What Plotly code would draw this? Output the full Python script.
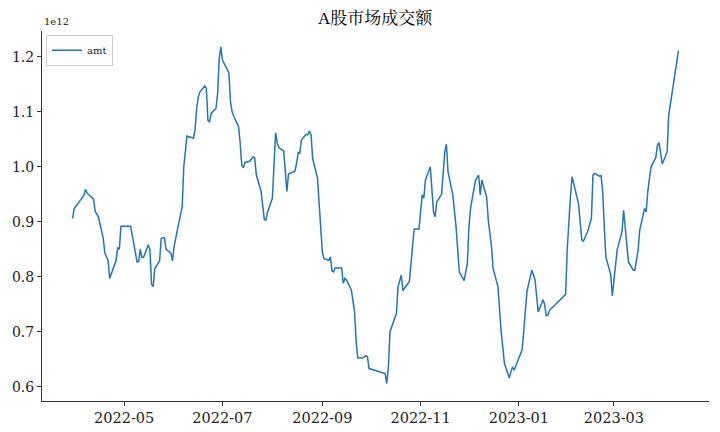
import plotly.graph_objects as go

dates = [
    "2022-03-30", "2022-03-31", "2022-04-06", "2022-04-07", "2022-04-08", "2022-04-12",
    "2022-04-13", "2022-04-15", "2022-04-18", "2022-04-19", "2022-04-21", "2022-04-22",
    "2022-04-26", "2022-04-27", "2022-04-28", "2022-04-29", "2022-05-05", "2022-05-09",
    "2022-05-10", "2022-05-11", "2022-05-12", "2022-05-13", "2022-05-16", "2022-05-17",
    "2022-05-18", "2022-05-19", "2022-05-20", "2022-05-23", "2022-05-24", "2022-05-25",
    "2022-05-26", "2022-05-27", "2022-05-30", "2022-05-31", "2022-06-01", "2022-06-03",
    "2022-06-06", "2022-06-07", "2022-06-08", "2022-06-09", "2022-06-13", "2022-06-14",
    "2022-06-15", "2022-06-16", "2022-06-17", "2022-06-20", "2022-06-21", "2022-06-22",
    "2022-06-23", "2022-06-24", "2022-06-27", "2022-06-28", "2022-06-29", "2022-06-30",
    "2022-07-01", "2022-07-05", "2022-07-06", "2022-07-07", "2022-07-08", "2022-07-11",
    "2022-07-12", "2022-07-13", "2022-07-14", "2022-07-15", "2022-07-18", "2022-07-20",
    "2022-07-21", "2022-07-22", "2022-07-25", "2022-07-26", "2022-07-27", "2022-07-28",
    "2022-07-29", "2022-08-01", "2022-08-02", "2022-08-03", "2022-08-04", "2022-08-05",
    "2022-08-08", "2022-08-09", "2022-08-10", "2022-08-11", "2022-08-15", "2022-08-16",
    "2022-08-17", "2022-08-18", "2022-08-19", "2022-08-21", "2022-08-22", "2022-08-23",
    "2022-08-24", "2022-08-25", "2022-08-26", "2022-08-29", "2022-08-30", "2022-08-31",
    "2022-09-01", "2022-09-02", "2022-09-05", "2022-09-06", "2022-09-07", "2022-09-08",
    "2022-09-09", "2022-09-13", "2022-09-14", "2022-09-15", "2022-09-16", "2022-09-19",
    "2022-09-21", "2022-09-22", "2022-09-23", "2022-09-26", "2022-09-28", "2022-09-29",
    "2022-09-30", "2022-10-10", "2022-10-11", "2022-10-12", "2022-10-13", "2022-10-17",
    "2022-10-18", "2022-10-20", "2022-10-21", "2022-10-25", "2022-10-28", "2022-10-31",
    "2022-11-02", "2022-11-03", "2022-11-04", "2022-11-07", "2022-11-09", "2022-11-10",
    "2022-11-11", "2022-11-14", "2022-11-16", "2022-11-17", "2022-11-18", "2022-11-21",
    "2022-11-23", "2022-11-25", "2022-11-28", "2022-11-30", "2022-12-01", "2022-12-02",
    "2022-12-05", "2022-12-07", "2022-12-08", "2022-12-09", "2022-12-12", "2022-12-13",
    "2022-12-15", "2022-12-16", "2022-12-19", "2022-12-21", "2022-12-23", "2022-12-26",
    "2022-12-28", "2022-12-29", "2023-01-03", "2023-01-04", "2023-01-06", "2023-01-09",
    "2023-01-11", "2023-01-13", "2023-01-16", "2023-01-17", "2023-01-18", "2023-01-19",
    "2023-01-20", "2023-01-30", "2023-01-31", "2023-02-02", "2023-02-03", "2023-02-07",
    "2023-02-08", "2023-02-09", "2023-02-10", "2023-02-13", "2023-02-15", "2023-02-16",
    "2023-02-17", "2023-02-20", "2023-02-21", "2023-02-22", "2023-02-23", "2023-02-24",
    "2023-02-27", "2023-02-28", "2023-03-03", "2023-03-06", "2023-03-07", "2023-03-09",
    "2023-03-10", "2023-03-13", "2023-03-14", "2023-03-16", "2023-03-17", "2023-03-20",
    "2023-03-21", "2023-03-22", "2023-03-24", "2023-03-27", "2023-03-28", "2023-03-29",
    "2023-03-30", "2023-03-31", "2023-04-03", "2023-04-04", "2023-04-07", "2023-04-10",
]

# amt, in units of 1e12
amt = [
    0.906, 0.924, 0.948, 0.959, 0.952, 0.941,
    0.919, 0.909, 0.870, 0.843, 0.830, 0.797,
    0.830, 0.853, 0.850, 0.892, 0.892, 0.827,
    0.828, 0.850, 0.835, 0.835, 0.858, 0.849,
    0.786, 0.782, 0.815, 0.829, 0.870, 0.870,
    0.871, 0.850, 0.843, 0.829, 0.855, 0.885,
    0.927, 1.000, 1.024, 1.056, 1.052, 1.067,
    1.106, 1.127, 1.136, 1.147, 1.143, 1.084,
    1.082, 1.097, 1.106, 1.133, 1.197, 1.218,
    1.194, 1.171, 1.118, 1.100, 1.092, 1.073,
    1.043, 1.003, 0.998, 1.008, 1.010, 1.018,
    1.016, 0.986, 0.955, 0.927, 0.904, 0.903,
    0.918, 0.943, 1.018, 1.062, 1.043, 1.035,
    1.029, 0.991, 0.955, 0.987, 0.992, 1.006,
    1.026, 1.025, 1.049, 1.056, 1.059, 1.058,
    1.065, 1.058, 1.015, 0.979, 0.933, 0.891,
    0.845, 0.833, 0.830, 0.836, 0.811, 0.809,
    0.816, 0.816, 0.788, 0.797, 0.794, 0.776,
    0.736, 0.682, 0.652, 0.652, 0.656, 0.655,
    0.633, 0.624, 0.606, 0.636, 0.700, 0.733,
    0.782, 0.803, 0.775, 0.791, 0.887, 0.887,
    0.949, 0.943, 0.976, 1.000, 0.918, 0.909,
    0.936, 0.950, 1.027, 1.041, 0.991, 0.949,
    0.891, 0.809, 0.793, 0.824, 0.891, 0.924,
    0.975, 0.985, 0.949, 0.976, 0.945, 0.903,
    0.855, 0.815, 0.782, 0.700, 0.643, 0.616,
    0.636, 0.630, 0.667, 0.700, 0.773, 0.812,
    0.795, 0.736, 0.758, 0.749, 0.729, 0.730,
    0.739, 0.768, 0.849, 0.945, 0.982, 0.933,
    0.891, 0.868, 0.864, 0.885, 0.906, 0.985,
    0.988, 0.983, 0.984, 0.955, 0.891, 0.836,
    0.803, 0.765, 0.849, 0.882, 0.921, 0.849,
    0.827, 0.812, 0.812, 0.849, 0.885, 0.924,
    0.918, 0.955, 1.000, 1.017, 1.039, 1.044,
    1.027, 1.005, 1.027, 1.094, 1.152, 1.211,
]

x_tickvals = ["2022-05-01", "2022-07-01", "2022-09-01", "2022-11-01", "2023-01-01", "2023-03-01"]
x_ticktext = ["2022-05", "2022-07", "2022-09", "2022-11", "2023-01", "2023-03"]
y_tickvals = [0.6, 0.7, 0.8, 0.9, 1.0, 1.1, 1.2]
y_ticktext = ["0.6", "0.7", "0.8", "0.9", "1.0", "1.1", "1.2"]

serif = "DejaVu Serif, Liberation Serif, serif"
title_font = "Liberation Serif, Noto Serif CJK SC, Noto Sans CJK SC, serif"

fig = go.Figure()
fig.add_trace(go.Scatter(
    x=dates, y=amt, mode="lines", name="amt",
    line=dict(color="#1f77b4", width=1.5),
))

fig.update_layout(
    width=720, height=432,
    margin=dict(l=42, r=11, t=31, b=31),
    paper_bgcolor="white", plot_bgcolor="white",
    title=dict(text="A股市场成交额", x=0.521, xanchor="center", y=0.958, yanchor="middle",
               font=dict(family=title_font, size=17, color="black")),
    showlegend=True,
    legend=dict(x=0.006, y=0.99, xanchor="left", yanchor="top",
                bordercolor="#cccccc", borderwidth=1, bgcolor="rgba(255,255,255,0.8)",
                font=dict(family=serif, size=10, color="#222"), itemwidth=30,
                tracegroupgap=0),
    annotations=[dict(text="1e12", xref="paper", yref="paper", x=0, y=1.0,
                      xanchor="left", yanchor="bottom", showarrow=False, yshift=2,
                      font=dict(family=serif, size=10, color="#222"))],
)

fig.update_xaxes(
    type="date", range=["2022-03-11", "2023-04-29"],
    tickvals=x_tickvals, ticktext=x_ticktext,
    showgrid=False, zeroline=False, automargin=False,
    showline=True, linecolor="#333", linewidth=1,
    ticks="outside", ticklen=4, tickcolor="#333",
    tickfont=dict(family=serif, size=14.5, color="#222"),
)
fig.update_yaxes(
    range=[0.574, 1.247],
    tickvals=y_tickvals, ticktext=y_ticktext,
    showgrid=False, zeroline=False, automargin=False,
    showline=True, linecolor="#333", linewidth=1,
    ticks="outside", ticklen=4, tickcolor="#333",
    tickfont=dict(family=serif, size=14, color="#222"),
)

fig.write_html("out.html", config={"displayModeBar": False},
               post_script="document.body.style.margin='0';document.body.style.overflow='hidden';")
